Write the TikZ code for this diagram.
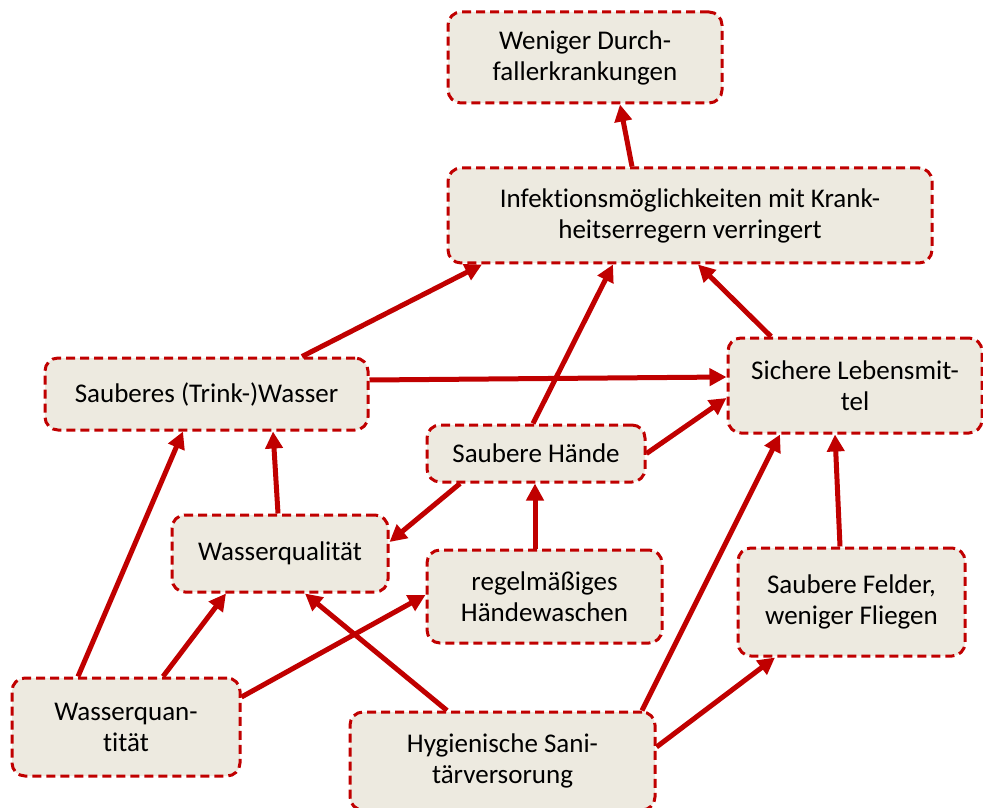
\documentclass[tikz,border=0pt]{standalone}
\usepackage{fontspec}
\setmainfont{Carlito}[Ligatures={NoCommon}]
\usepackage{tikz}
\usetikzlibrary{
  arrows.meta,
  calc
}
\definecolor{BoxRed}{RGB}{192,0,0}
\definecolor{BoxFill}{RGB}{237,234,224}

\begin{document}
\begin{tikzpicture}[
  x=0.5pt, y=-0.5pt,
  box/.style={
    draw=BoxRed,
    fill=BoxFill,
    line width=1.5pt,
    dash pattern=on 4.5pt off 2.5pt,
    rounded corners=6.5pt,
    align=center,
    inner sep=0pt,
    font=\fontsize{13.5}{15.5}\selectfont
  },
  arr/.style={-{Triangle[length=8.5pt,width=8.5pt]}, line width=2.5pt, BoxRed},
]
  \useasboundingbox (0,0) rectangle (983,807);

  % ========== Kästen ==========
  \node[box, minimum width=137pt, minimum height=45.5pt] (weniger) at (585,57.5)
    {Weniger Durch-\\fallerkrankungen};
  \node[box, minimum width=242pt, minimum height=47.5pt] (infekt) at (690,215.5)
    {Infektionsmöglichkeiten mit Krank-\\heitserregern verringert};
  \node[box, minimum width=161.5pt, minimum height=36pt] (sauber) at (206.5,394)
    {Sauberes (Trink-)Wasser};
  \node[box, minimum width=127pt, minimum height=47.5pt] (lebens) at (855,385.5)
    {Sichere Lebensmit-\\tel};
  \node[box, minimum width=109pt, minimum height=28.5pt] (haende) at (536,453.5)
    {Saubere Hände};
  \node[box, minimum width=108pt, minimum height=38.5pt] (wqual) at (280,553.5)
    {Wasserqualität};
  \node[box, minimum width=117.5pt, minimum height=46.5pt] (waschen) at (544.5,596.5)
    {regelmäßiges\\Händewaschen};
  \node[box, minimum width=113.5pt, minimum height=54pt] (felder) at (851.5,602)
    {Saubere Felder,\\weniger Fliegen};
  \node[box, minimum width=114pt, minimum height=49pt] (wquant) at (126,727)
    {Wasserquan-\\tität};
  \node[box, minimum width=152.5pt, minimum height=49pt] (hyg) at (502.5,761)
    {Hygienische Sani-\\tärversorung};

  % ========== Pfeile nach oben ==========
  \draw[arr] ($(infekt.north)+(-58,0)$) -- ($(weniger.south)+(35,0)$);
  \draw[arr] ($(sauber.north)+(95.5,0)$) -- ($(infekt.south)+(-208,0)$);
  \draw[arr] ($(haende.north)+(-3,0)$) -- ($(infekt.south)+(-77,0)$);
  \draw[arr] ($(lebens.north)+(-84,0)$) -- ($(infekt.south)+(8,0)$);

  % ========== Zu den sicheren Lebensmitteln ==========
  \draw[arr] ($(sauber.east)+(0,-14)$) -- ($(lebens.west)+(0,-8.5)$);
  \draw[arr] (haende.east) -- ($(lebens.west)+(0,12.5)$);
  \draw[arr] ($(felder.north)+(-11.5,0)$) -- ($(lebens.south)+(-20,0)$);
  \draw[arr] ($(hyg.north)+(139.5,0)$) -- ($(lebens.south)+(-75,0)$);

  % ========== Mitte ==========
  \draw[arr] ($(wqual.north)+(-2,0)$) -- ($(sauber.south)+(66.5,0)$);
  \draw[arr] ($(haende.south)+(-76,0)$) -- ($(wqual.east)+(0,-11.5)$);
  \draw[arr] ($(waschen.north)+(-9.5,0)$) -- ($(haende.south)+(-1,0)$);

  % ========== Von unten ==========
  \draw[arr] ($(wquant.north)+(-48,0)$) -- ($(sauber.south)+(-23.5,0)$);
  \draw[arr] ($(wquant.north)+(37,0)$) -- ($(wqual.south)+(-54,0)$);
  \draw[arr] ($(wquant.east)+(0,-30)$) -- ($(waschen.west)+(0,-1.5)$);
  \draw[arr] ($(hyg.north)+(-55.5,0)$) -- ($(wqual.south)+(25,0)$);
  \draw[arr] ($(hyg.east)+(0,-14)$) -- ($(felder.south)+(-76.5,0)$);

\end{tikzpicture}
\end{document}
